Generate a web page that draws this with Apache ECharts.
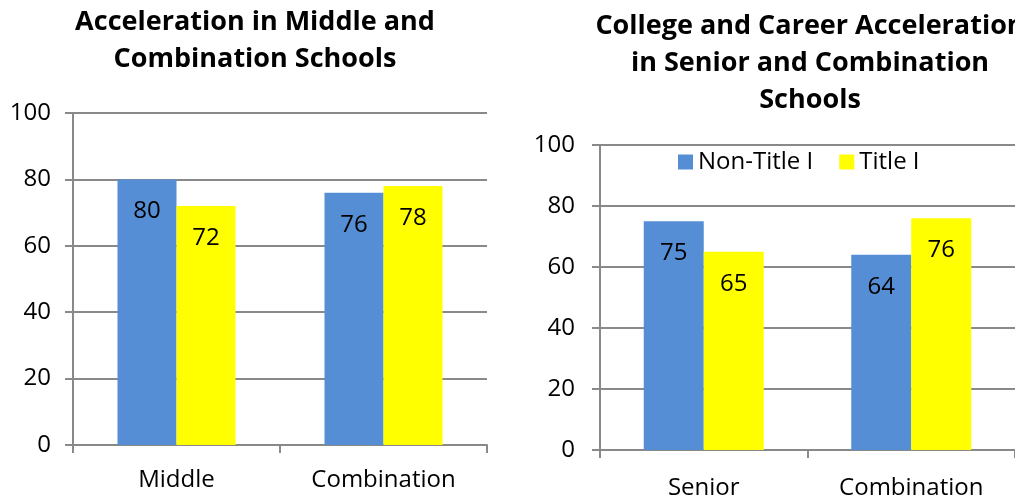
<!DOCTYPE html>
<html>
<head>
<meta charset="utf-8">
<title>Acceleration by School Type</title>
<script src="https://cdn.jsdelivr.net/npm/echarts@6/dist/echarts.min.js"></script>
<style>
  html, body { margin: 0; padding: 0; background: #ffffff; }
  #chart { width: 1015px; height: 500px; }
</style>
</head>
<body>
<div id="chart"></div>
<script>
// Data
const seriesNames = ['Non-Title I', 'Title I'];

const leftTitle = 'Acceleration in Middle and\nCombination Schools';
const leftCategories = ['Middle', 'Combination'];
const leftNonTitle = [80, 76];
const leftTitleI = [72, 78];

const rightTitle = 'College and Career Acceleration\nin Senior and Combination\nSchools';
const rightCategories = ['Senior', 'Combination'];
const rightNonTitle = [75, 64];
const rightTitleI = [65, 76];

const yTicks = { min: 0, max: 100, interval: 20 };

// Styling
const FONT = '"Open Sans", "Liberation Sans", sans-serif';
const BLUE = '#558ED5';
const YELLOW = '#FFFF00';
const GRID_GRAY = '#898989';

const chart = echarts.init(document.getElementById('chart'), null, { renderer: 'canvas' });

function yAxis(gridIndex, margin) {
  return {
    type: 'value',
    gridIndex,
    min: yTicks.min,
    max: yTicks.max,
    interval: yTicks.interval,
    axisLine: { show: true, lineStyle: { color: GRID_GRAY, width: 2 } },
    axisTick: { show: true, length: 8, lineStyle: { color: GRID_GRAY, width: 2 } },
    axisLabel: { color: '#000', fontSize: 24, fontFamily: FONT, margin },
    splitLine: { show: true, lineStyle: { color: GRID_GRAY, width: 2 } }
  };
}

function xAxis(gridIndex, data, margin) {
  return {
    type: 'category',
    gridIndex,
    data,
    axisLine: { show: true, lineStyle: { color: GRID_GRAY, width: 2 } },
    axisTick: { show: true, length: 8, alignWithLabel: false, lineStyle: { color: GRID_GRAY, width: 2 } },
    axisLabel: { color: '#000', fontSize: 24, fontFamily: FONT, margin },
    splitLine: { show: false }
  };
}

function barSeries(name, data, axisIndex, color, width) {
  return {
    type: 'bar',
    name,
    data,
    xAxisIndex: axisIndex,
    yAxisIndex: axisIndex,
    barWidth: width,
    barGap: '0%',
    itemStyle: { color },
    label: {
      show: true,
      position: 'insideTop',
      distance: 20,
      color: '#000',
      fontSize: 24,
      fontFamily: FONT
    },
    emphasis: { disabled: true },
    animation: false
  };
}

const titleStyle = {
  color: '#000',
  fontSize: 27,
  fontWeight: 'bold',
  fontFamily: FONT,
  lineHeight: 37
};

chart.setOption({
  backgroundColor: '#ffffff',
  animation: false,
  title: [
    { text: leftTitle, left: 255, top: 4, padding: 0, textAlign: 'center', textStyle: titleStyle },
    { text: rightTitle, left: 810, top: 8, padding: 0, textAlign: 'center', textStyle: titleStyle }
  ],
  legend: {
    data: seriesNames,
    left: 678,
    top: 150,
    padding: 0,
    icon: 'rect',
    itemWidth: 15,
    itemHeight: 15,
    itemGap: 26,
    selectedMode: false,
    textStyle: { color: '#000', fontSize: 24, fontFamily: FONT }
  },
  grid: [
    { left: 73, right: 528, top: 113, bottom: 55, containLabel: false },
    { left: 600, width: 420, top: 145, bottom: 50, containLabel: false }
  ],
  xAxis: [
    xAxis(0, leftCategories, 23),
    xAxis(1, rightCategories, 26)
  ],
  yAxis: [
    yAxis(0, 22),
    yAxis(1, 25)
  ],
  series: [
    barSeries(seriesNames[0], leftNonTitle, 0, BLUE, 59),
    barSeries(seriesNames[1], leftTitleI, 0, YELLOW, 59),
    barSeries(seriesNames[0], rightNonTitle, 1, BLUE, 60),
    barSeries(seriesNames[1], rightTitleI, 1, YELLOW, 60)
  ]
});
</script>
</body>
</html>
